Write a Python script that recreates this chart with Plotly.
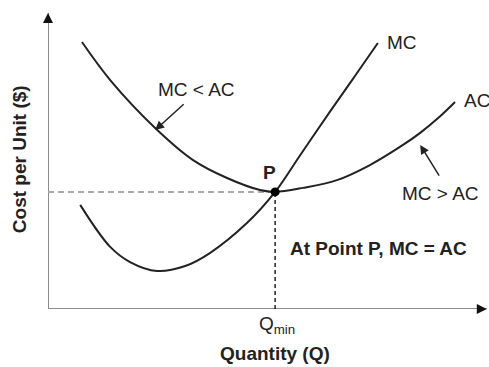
import plotly.graph_objects as go

# ---- data (chart units) ----
ac_q = [0.77, 1.41, 2.43, 3.29, 4.06, 4.81, 5.15, 5.78, 6.55, 7.30, 8.05, 8.44, 8.84, 9.23]
ac_c = [8.64, 7.41, 5.86, 4.82, 4.24, 3.85, 3.79, 3.92, 4.17, 4.66, 5.31, 5.70, 6.17, 6.70]

mc_q = [0.73, 1.41, 1.86, 2.47, 3.11, 3.67, 4.51, 5.15, 5.71, 6.39, 6.96, 7.48]
mc_c = [3.37, 2.01, 1.52, 1.23, 1.39, 1.81, 2.78, 3.79, 4.96, 6.38, 7.54, 8.61]

p_q = 5.15
p_c = 3.79

x_axis_end = 9.95
y_axis_end = 9.58

FONT = "Liberation Sans, Arial, sans-serif"
INK = "#222222"
FS = 19

fig = go.Figure()

# axes lines
fig.add_trace(go.Scatter(x=[0, 0], y=[0, y_axis_end], mode="lines",
                         line=dict(color="#8c8c8c", width=2), hoverinfo="skip"))
fig.add_trace(go.Scatter(x=[0, x_axis_end], y=[0, 0], mode="lines",
                         line=dict(color="#8c8c8c", width=2), hoverinfo="skip"))

# dashed guides
fig.add_trace(go.Scatter(x=[0, p_q], y=[p_c, p_c], mode="lines",
                         line=dict(color="#aaaaaa", width=2, dash="6px,4px"), hoverinfo="skip"))
fig.add_trace(go.Scatter(x=[p_q, p_q], y=[0, p_c], mode="lines",
                         line=dict(color=INK, width=1.5, dash="4px,3px"), hoverinfo="skip"))

# curves
fig.add_trace(go.Scatter(x=ac_q, y=ac_c, mode="lines", line_shape="spline",
                         line=dict(color=INK, width=2), name="AC"))
fig.add_trace(go.Scatter(x=mc_q, y=mc_c, mode="lines", line_shape="spline",
                         line=dict(color=INK, width=2), name="MC"))

# point P
fig.add_trace(go.Scatter(x=[p_q], y=[p_c], mode="markers",
                         marker=dict(color="black", size=9), name="P"))

ann = []
# axis arrowheads
ann.append(dict(x=0, y=y_axis_end, ax=0, ay=y_axis_end - 0.3, xref="x", yref="y",
                axref="x", ayref="y", showarrow=True, arrowhead=2, arrowsize=1,
                arrowwidth=2, arrowcolor="#111", text=""))
ann.append(dict(x=x_axis_end, y=0, ax=x_axis_end - 0.2, ay=0, xref="x", yref="y",
                axref="x", ayref="y", showarrow=True, arrowhead=2, arrowsize=1,
                arrowwidth=2, arrowcolor="#111", text=""))

def txt(x, y, s, bold=False, xanchor="center", angle=0, xref="x", yref="y", size=FS):
    ann.append(dict(x=x, y=y, xref=xref, yref=yref, text=("<b>%s</b>" % s) if bold else s,
                    showarrow=False, xanchor=xanchor, yanchor="middle", textangle=angle,
                    font=dict(family=FONT, size=size, color=INK)))

# plot area is 309 px tall (paper y) and 441 px wide (paper x)
txt(7.64, 8.64, "MC", xanchor="left")
txt(9.38, 6.76, "AC", xanchor="left")
txt(3.36, 7.09, "MC &lt; AC")
txt(8.89, 3.75, "MC &gt; AC")
txt(5.03, 4.43, "P", bold=True)
txt(5.44, 1.97, "At Point P, MC = AC", bold=True, xanchor="left")
txt(5.19, -16 / 309, "Q<sub>min</sub>", yref="paper")
txt(5.15, -44 / 309, "Quantity (Q)", bold=True, yref="paper")
txt(-29 / 441, 4.85, "Cost per Unit ($)", bold=True, angle=-90, xref="paper")

# pointer arrows
ann.append(dict(x=2.43, y=5.79, ax=3.11, ay=6.67, xref="x", yref="y", axref="x", ayref="y",
                showarrow=True, arrowhead=2, arrowsize=1.2, arrowwidth=1.5, arrowcolor=INK, text=""))
ann.append(dict(x=8.44, y=5.31, ax=8.89, ay=4.27, xref="x", yref="y", axref="x", ayref="y",
                showarrow=True, arrowhead=2, arrowsize=1.2, arrowwidth=1.5, arrowcolor=INK, text=""))

fig.update_layout(
    width=489, height=367,
    margin=dict(l=48, r=0, t=0, b=58),
    paper_bgcolor="white", plot_bgcolor="white",
    showlegend=False,
    hovermode=False,
    xaxis=dict(range=[0, 10], visible=False, fixedrange=True),
    yaxis=dict(range=[0, 10], visible=False, fixedrange=True),
    annotations=ann,
)

fig.write_html("out.html", config={"displayModeBar": False, "staticPlot": True},
               post_script="document.body.style.margin='0px';document.body.style.overflow='hidden';")
